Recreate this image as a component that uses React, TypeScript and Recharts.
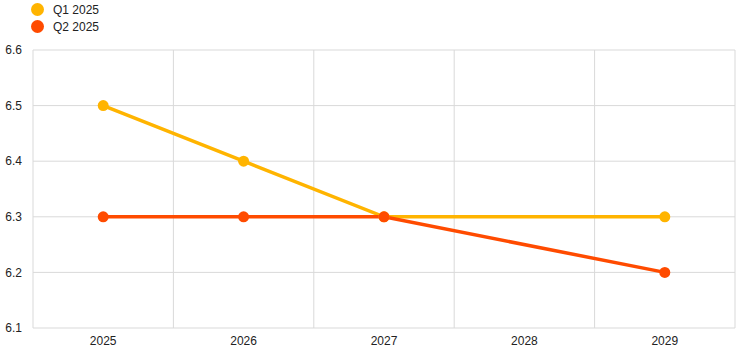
import React from 'react';
import { LineChart, Line, XAxis, YAxis, CartesianGrid } from 'recharts';

const years = [2025, 2026, 2027, 2028, 2029];
const q1 = [6.5, 6.4, 6.3, null, 6.3];
const q2 = [6.3, 6.3, 6.3, null, 6.2];
const yTicks = [6.1, 6.2, 6.3, 6.4, 6.5, 6.6];
const gridTicks = [2024.5, 2025.5, 2026.5, 2027.5, 2028.5, 2029.5];

const SERIES = [
	{ key: 'q1', name: 'Q1 2025', color: '#FFB400' },
	{ key: 'q2', name: 'Q2 2025', color: '#FF4B00' },
];

const data = years.map((year, i) => ({ year, q1: q1[i], q2: q2[i] }));

const FONT = 'Arial, "Liberation Sans", sans-serif';

function LegendBox() {
	return (
		<div style={{ position: 'absolute', left: 31, top: 1, fontFamily: FONT, fontSize: 12, color: '#222' }}>
			{SERIES.map((s) => (
				<div key={s.key} style={{ display: 'flex', alignItems: 'center', height: 17 }}>
					<span style={{ display: 'inline-block', width: 13, height: 13, borderRadius: '50%', background: s.color, marginRight: 9 }} />
					<span>{s.name}</span>
				</div>
			))}
		</div>
	);
}

export default function App() {
	return (
		<div style={{ position: 'absolute', left: 0, top: 0, width: 745, height: 355, background: '#fff' }}>
			<LegendBox />
			<LineChart width={745} height={355} data={data} margin={{ top: 50, right: 10, left: 0, bottom: 0 }}>
				<CartesianGrid stroke="#d9d9d9" xAxisId="grid" />
				<XAxis
					xAxisId="grid"
					orientation="top"
					dataKey="year"
					type="number"
					domain={[2024.5, 2029.5]}
					ticks={gridTicks}
					hide
				/>
				<XAxis
					xAxisId="main"
					dataKey="year"
					type="number"
					domain={[2024.5, 2029.5]}
					ticks={years}
					height={27}
					axisLine={false}
					tickLine={false}
					tick={{ fontSize: 12, fill: '#222', fontFamily: FONT }}
				/>
				<YAxis
					domain={[6.1, 6.6]}
					ticks={yTicks}
					width={33}
					axisLine={false}
					tickLine={false}
					tickMargin={5}
					tickFormatter={(v: number) => v.toFixed(1)}
					tick={{ fontSize: 12, fill: '#222', fontFamily: FONT }}
				/>
				{SERIES.map((s) => (
					<Line
						key={s.key}
						xAxisId="main"
						dataKey={s.key}
						name={s.name}
						stroke={s.color}
						strokeWidth={3.5}
						connectNulls
						dot={{ r: 5.5, fill: s.color, stroke: s.color, strokeWidth: 0 }}
						isAnimationActive={false}
					/>
				))}
			</LineChart>
		</div>
	);
}
